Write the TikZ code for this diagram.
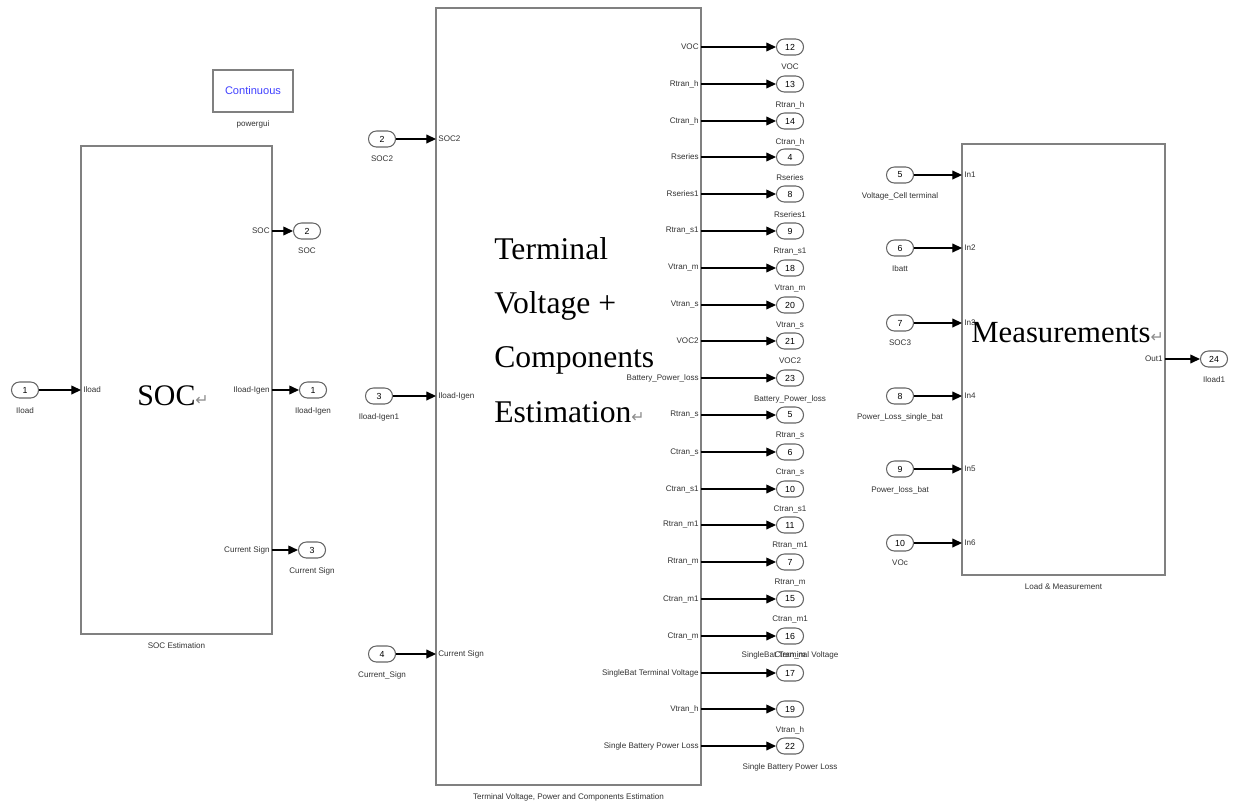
\documentclass[tikz,border=0pt]{standalone}
\usepackage{fontspec}
\setmainfont{Liberation Serif}
\setsansfont{Liberation Sans}
\newfontfamily\symfont{DejaVu Sans}
\usetikzlibrary{arrows.meta}
\newcommand\parmark{{\symfont\fontsize{9}{9}\selectfont\color{black!45}↵}}

\begin{document}
\begin{tikzpicture}[
    x=0.02cm, y=-0.02cm,
    blk/.style={rectangle, draw=black!50, line width=1.1pt, inner sep=0pt, outer sep=0pt},
    bub/.style={rectangle, rounded corners=4.5pt, draw=black!60, line width=0.6pt, minimum width=0.54cm, minimum height=0.32cm, inner sep=0pt, font=\sffamily\fontsize{5}{6}\selectfont},
    lab/.style={font=\sffamily\fontsize{4.6}{5.5}\selectfont, text=black!80, inner sep=0.5pt},
    pl/.style={font=\sffamily\fontsize{4.6}{5.5}\selectfont, text=black!80, inner sep=1pt},
    sig/.style={-{Triangle[length=5.5pt,width=5pt]}, line width=0.7pt},
    bigtxt/.style={inner sep=0pt, align=left},
    label distance=4.3pt
]
\useasboundingbox (0,0) rectangle (1243,805);

% powergui
\node[blk, line width=0.9pt, minimum width=1.6cm, minimum height=0.84cm, font=\sffamily\fontsize{6.3}{7}\selectfont, text=blue!75, label={[lab]below:powergui}] (pgui) at (253,91) {Continuous};

% SOC Estimation
\node[blk, minimum width=3.82cm, minimum height=9.76cm, label={[lab]below:SOC Estimation}] (socblk) at (176.5,390) {};
\node[bigtxt, anchor=base west, font=\fontsize{17}{20}\selectfont] (soctxt) at (137,405) {SOC\parmark};

\node[bub, label={[lab]below:Iload}] (i1) at (25,390) {1};
\draw[sig] (i1) -- (i1 -| socblk.west) node[pl, right] {Iload};

\node[bub, label={[lab]below:SOC}] (o2) at (307,231) {2};
\node[bub, label={[lab]below:Iload-Igen}] (o1) at (313,390) {1};
\node[bub, label={[lab]below:Current Sign}] (o3) at (312,550) {3};
\draw[sig] (socblk.east |- o2) -- (o2) node[pl, pos=0, left] {SOC};
\draw[sig] (socblk.east |- o1) -- (o1) node[pl, pos=0, left] {Iload-Igen};
\draw[sig] (socblk.east |- o3) -- (o3) node[pl, pos=0, left] {Current Sign};

% Terminal Voltage, Power and Components Estimation
\node[blk, minimum width=5.3cm, minimum height=15.54cm, label={[lab]below:{Terminal Voltage, Power and Components Estimation}}] (tvblk) at (568.5,396.5) {};
\node[bigtxt, anchor=base west, font=\fontsize{18}{30.8}\selectfont] (tvtxt) at (494,422) {Terminal\\Voltage +\\Components\\Estimation\parmark};

\node[bub, label={[lab]below:SOC2}] (m2) at (382,139) {2};
\node[bub, label={[lab]below:Iload-Igen1}] (m3) at (379,396) {3};
\node[bub, label={[lab]below:Current\_Sign}] (m4) at (382,654) {4};
\draw[sig] (m2) -- (m2 -| tvblk.west) node[pl, right] {SOC2};
\draw[sig] (m3) -- (m3 -| tvblk.west) node[pl, right] {Iload-Igen};
\draw[sig] (m4) -- (m4 -| tvblk.west) node[pl, right] {Current Sign};

\node[bub, label={[lab]below:VOC}] (t12) at (790,47) {12};
\draw[sig] (tvblk.east |- t12) -- (t12) node[pl, pos=0, left] {VOC};
\node[bub, label={[lab]below:Rtran\_h}] (t13) at (790,84) {13};
\draw[sig] (tvblk.east |- t13) -- (t13) node[pl, pos=0, left] {Rtran\_h};
\node[bub, label={[lab]below:Ctran\_h}] (t14) at (790,121) {14};
\draw[sig] (tvblk.east |- t14) -- (t14) node[pl, pos=0, left] {Ctran\_h};
\node[bub, label={[lab]below:Rseries}] (t4) at (790,157) {4};
\draw[sig] (tvblk.east |- t4) -- (t4) node[pl, pos=0, left] {Rseries};
\node[bub, label={[lab]below:Rseries1}] (t8) at (790,194) {8};
\draw[sig] (tvblk.east |- t8) -- (t8) node[pl, pos=0, left] {Rseries1};
\node[bub, label={[lab]below:Rtran\_s1}] (t9) at (790,231) {9};
\draw[sig] (tvblk.east |- t9) -- (t9) node[pl, pos=0, left] {Rtran\_s1};
\node[bub, label={[lab]below:Vtran\_m}] (t18) at (790,268) {18};
\draw[sig] (tvblk.east |- t18) -- (t18) node[pl, pos=0, left] {Vtran\_m};
\node[bub, label={[lab]below:Vtran\_s}] (t20) at (790,305) {20};
\draw[sig] (tvblk.east |- t20) -- (t20) node[pl, pos=0, left] {Vtran\_s};
\node[bub, label={[lab]below:VOC2}] (t21) at (790,341) {21};
\draw[sig] (tvblk.east |- t21) -- (t21) node[pl, pos=0, left] {VOC2};
\node[bub, label={[lab]below:Battery\_Power\_loss}] (t23) at (790,378) {23};
\draw[sig] (tvblk.east |- t23) -- (t23) node[pl, pos=0, left] {Battery\_Power\_loss};
\node[bub, label={[lab]below:Rtran\_s}] (t5) at (790,415) {5};
\draw[sig] (tvblk.east |- t5) -- (t5) node[pl, pos=0, left] {Rtran\_s};
\node[bub, label={[lab]below:Ctran\_s}] (t6) at (790,452) {6};
\draw[sig] (tvblk.east |- t6) -- (t6) node[pl, pos=0, left] {Ctran\_s};
\node[bub, label={[lab]below:Ctran\_s1}] (t10) at (790,489) {10};
\draw[sig] (tvblk.east |- t10) -- (t10) node[pl, pos=0, left] {Ctran\_s1};
\node[bub, label={[lab]below:Rtran\_m1}] (t11) at (790,525) {11};
\draw[sig] (tvblk.east |- t11) -- (t11) node[pl, pos=0, left] {Rtran\_m1};
\node[bub, label={[lab]below:Rtran\_m}] (t7) at (790,562) {7};
\draw[sig] (tvblk.east |- t7) -- (t7) node[pl, pos=0, left] {Rtran\_m};
\node[bub, label={[lab]below:Ctran\_m1}] (t15) at (790,599) {15};
\draw[sig] (tvblk.east |- t15) -- (t15) node[pl, pos=0, left] {Ctran\_m1};
\node[bub, label={[lab, label distance=3.6pt]below:Ctran\_m}] (t16) at (790,636) {16};
\draw[sig] (tvblk.east |- t16) -- (t16) node[pl, pos=0, left] {Ctran\_m};
\node[bub, label={[lab, label distance=2.4pt]above:SingleBat Terminal Voltage}] (t17) at (790,673) {17};
\draw[sig] (tvblk.east |- t17) -- (t17) node[pl, pos=0, left] {SingleBat Terminal Voltage};
\node[bub, label={[lab]below:Vtran\_h}] (t19) at (790,709) {19};
\draw[sig] (tvblk.east |- t19) -- (t19) node[pl, pos=0, left] {Vtran\_h};
\node[bub, label={[lab]below:Single Battery Power Loss}] (t22) at (790,746) {22};
\draw[sig] (tvblk.east |- t22) -- (t22) node[pl, pos=0, left] {Single Battery Power Loss};

% Load & Measurement
\node[blk, minimum width=4.06cm, minimum height=8.62cm, label={[lab]below:Load \& Measurement}] (lmblk) at (1063.5,359.5) {};
\node[bigtxt, anchor=base west, font=\fontsize{17.5}{20}\selectfont] (lmtxt) at (971,342) {Measurements\parmark};

\node[bub, label={[lab]below:Voltage\_Cell terminal}] (l5) at (900,175) {5};
\node[bub, label={[lab]below:Ibatt}] (l6) at (900,248) {6};
\node[bub, label={[lab]below:SOC3}] (l7) at (900,323) {7};
\node[bub, label={[lab]below:Power\_Loss\_single\_bat}] (l8) at (900,396) {8};
\node[bub, label={[lab]below:Power\_loss\_bat}] (l9) at (900,469) {9};
\node[bub, label={[lab]below:VOc}] (l10) at (900,543) {10};
\draw[sig] (l5) -- (l5 -| lmblk.west) node[pl, right] {In1};
\draw[sig] (l6) -- (l6 -| lmblk.west) node[pl, right] {In2};
\draw[sig] (l7) -- (l7 -| lmblk.west) node[pl, right] {In3};
\draw[sig] (l8) -- (l8 -| lmblk.west) node[pl, right] {In4};
\draw[sig] (l9) -- (l9 -| lmblk.west) node[pl, right] {In5};
\draw[sig] (l10) -- (l10 -| lmblk.west) node[pl, right] {In6};

\node[bub, label={[lab]below:Iload1}] (l24) at (1214,359) {24};
\draw[sig] (lmblk.east |- l24) -- (l24) node[pl, pos=0, left] {Out1};

\end{tikzpicture}
\end{document}
